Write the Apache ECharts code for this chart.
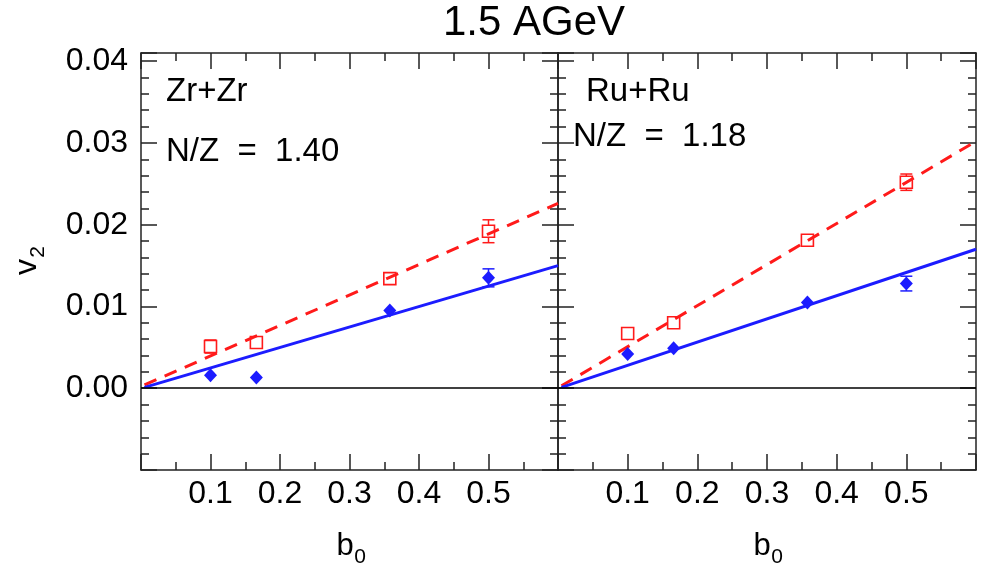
<!DOCTYPE html>
<html>
<head>
<meta charset="utf-8">
<script src="https://cdn.jsdelivr.net/npm/echarts@6/dist/echarts.min.js"></script>
<style>html,body{margin:0;padding:0;background:#fff;}#c{width:982px;height:569px;}</style>
</head>
<body>
<div id="c"></div>
<script>
// ---- data ----
const bValues = [0.1, 0.166, 0.358, 0.5];
const zrBlue = [0.0016, 0.0013, 0.0095, 0.0135];
const zrBlueErr = [0, 0, 0, 0.0011];
const zrRed = [0.0051, 0.0056, 0.0134, 0.0192];
const zrRedErr = [0.0008, 0, 0, 0.0014];
const ruBlue = [0.0042, 0.0049, 0.0105, 0.0128];
const ruBlueErr = [0, 0, 0, 0.0009];
const ruRed = [0.0067, 0.0080, 0.0181, 0.0252];
const ruRedErr = [0, 0, 0, 0.0010];
const fitB = [0.005, 0.6];
const zrBlueFit = [0.0001, 0.0150];
const zrRedFit = [0.0004, 0.0226];
const ruBlueFit = [0.0001, 0.0170];
const ruRedFit = [0.0003, 0.0302];
const xTickLabels = ['0.1', '0.2', '0.3', '0.4', '0.5'];
const yTickLabels = ['0.00', '0.01', '0.02', '0.03', '0.04'];
const titleText = '1.5 AGeV';
const panelLabels = [['Zr+Zr', 'N/Z  =  1.40'], ['Ru+Ru', 'N/Z  =  1.18']];

const RED = '#ff1a1a', BLUE = '#1c1cff', AX = '#222';
const FONT = '"Liberation Sans", Arial, Helvetica, sans-serif';

function pts(xs, ys, es) { return xs.map((x, i) => es ? [x, ys[i], es[i]] : [x, ys[i]]); }

const chart = echarts.init(document.getElementById('c'), null, {renderer: 'canvas'});

const grids = [
  {left: 141, top: 53, width: 417, height: 417},
  {left: 558, top: 53, width: 418, height: 417}
];

function xAx(gi, pos, labels) {
  return {
    type: 'value', gridIndex: gi, position: pos, min: 0, max: 0.6, interval: 0.1,
    axisLine: {show: true, onZero: false, lineStyle: {color: AX, width: 1.5}},
    axisTick: {show: true, inside: true, length: 16, lineStyle: {color: AX, width: 1.5}},
    minorTick: {show: true, splitNumber: 2, length: 8, lineStyle: {color: AX, width: 1.5}},
    splitLine: {show: false}, minorSplitLine: {show: false},
    axisLabel: {show: labels, margin: 8, fontSize: 32, color: '#000', fontFamily: FONT,
      formatter: v => { const s = v.toFixed(1); return xTickLabels.indexOf(s) >= 0 ? s : ''; }}
  };
}
function yAx(gi, pos, interval, len, labels, line) {
  return {
    type: 'value', gridIndex: gi, position: pos, min: -0.01, max: 0.041, interval: interval,
    axisLine: {show: line, onZero: false, lineStyle: {color: AX, width: 1.5}},
    axisTick: {show: true, inside: true, length: len, lineStyle: {color: AX, width: 1.5}},
    splitLine: {show: false},
    axisLabel: {show: labels, margin: 13, fontSize: 32, color: '#000', fontFamily: FONT,
      formatter: v => { const s = v.toFixed(2); return (yTickLabels.indexOf(s) >= 0 && Math.abs(v - Number(s)) < 1e-6) ? s : ''; }}
  };
}

const xAxis = [xAx(0, 'bottom', true), xAx(0, 'top', false), xAx(1, 'bottom', true), xAx(1, 'top', false)];
const yAxis = [
  yAx(0, 'left', 0.01, 16, true, true), yAx(0, 'left', 0.002, 8, false, false),
  yAx(0, 'right', 0.01, 16, false, true), yAx(0, 'right', 0.002, 8, false, false),
  yAx(1, 'left', 0.01, 16, false, true), yAx(1, 'left', 0.002, 8, false, false),
  yAx(1, 'right', 0.01, 16, false, true), yAx(1, 'right', 0.002, 8, false, false)
];

function errRender(params, api) {
  const x = api.value(0), y = api.value(1), e = api.value(2);
  if (!e) return null;
  const c = api.coord([x, y]);
  const t = api.coord([x, y + e]);
  const b = api.coord([x, y - e]);
  const hw = 6, gap = 6;
  const st = {stroke: api.visual('color'), lineWidth: 1.5, fill: null};
  return {type: 'group', children: [
    {type: 'line', shape: {x1: t[0], y1: t[1], x2: c[0], y2: Math.max(t[1], c[1] - gap)}, style: st},
    {type: 'line', shape: {x1: b[0], y1: b[1], x2: c[0], y2: Math.min(b[1], c[1] + gap)}, style: st},
    {type: 'line', shape: {x1: t[0] - hw, y1: t[1], x2: t[0] + hw, y2: t[1]}, style: st},
    {type: 'line', shape: {x1: b[0] - hw, y1: b[1], x2: b[0] + hw, y2: b[1]}, style: st}
  ]};
}

function panelSeries(gi, blue, blueErr, red, redErr, blueFit, redFit) {
  const xi = gi * 2, yi = gi * 4;
  return [
    {type: 'line', xAxisIndex: xi, yAxisIndex: yi, data: [], silent: true,
     markLine: {silent: true, symbol: ['none', 'none'], label: {show: false},
       lineStyle: {color: '#000', width: 1.5, type: 'solid'}, data: [{yAxis: 0}]}},
    {type: 'line', xAxisIndex: xi, yAxisIndex: yi, data: pts(fitB, redFit), showSymbol: false, symbol: 'none',
     lineStyle: {color: RED, width: 3, type: [13, 9]}, silent: true, z: 2},
    {type: 'line', xAxisIndex: xi, yAxisIndex: yi, data: pts(fitB, blueFit), showSymbol: false, symbol: 'none',
     lineStyle: {color: BLUE, width: 3, type: 'solid'}, silent: true, z: 2},
    {type: 'custom', xAxisIndex: xi, yAxisIndex: yi, data: pts(bValues, red, redErr), renderItem: errRender,
     itemStyle: {color: RED}, encode: {x: 0, y: 1}, z: 3, silent: true},
    {type: 'custom', xAxisIndex: xi, yAxisIndex: yi, data: pts(bValues, blue, blueErr), renderItem: errRender,
     itemStyle: {color: BLUE}, encode: {x: 0, y: 1}, z: 3, silent: true},
    {type: 'scatter', xAxisIndex: xi, yAxisIndex: yi, data: pts(bValues, red), symbol: 'rect', symbolSize: 12,
     itemStyle: {color: 'rgba(0,0,0,0)', borderColor: RED, borderWidth: 1.6, opacity: 1}, z: 4, silent: true},
    {type: 'scatter', xAxisIndex: xi, yAxisIndex: yi, data: pts(bValues, blue), symbol: 'diamond', symbolSize: [13, 14],
     itemStyle: {color: BLUE, opacity: 1}, z: 4, silent: true}
  ];
}

const series = [].concat(
  panelSeries(0, zrBlue, zrBlueErr, zrRed, zrRedErr, zrBlueFit, zrRedFit),
  panelSeries(1, ruBlue, ruBlueErr, ruRed, ruRedErr, ruBlueFit, ruRedFit)
);

function txt(x, y, text, size, align, rot) {
  return {type: 'text', x: x, y: y, rotation: rot || 0, z: 10, silent: true,
    style: {text: text, fontSize: size, fontFamily: FONT, fill: '#000',
      align: align || 'left', verticalAlign: 'middle', textAlign: align || 'left', textVerticalAlign: 'middle'}};
}

const graphic = [
  txt(534, 23, titleText, 42, 'center'),
  txt(166, 92, panelLabels[0][0], 33, 'left'),
  txt(166, 152, panelLabels[0][1], 33, 'left'),
  txt(586, 92, panelLabels[1][0], 33, 'left'),
  txt(573, 137, panelLabels[1][1], 33, 'left'),
  txt(345, 546, 'b', 31, 'center'),
  txt(360, 557, '0', 21, 'center'),
  txt(762, 546, 'b', 31, 'center'),
  txt(777, 557, '0', 21, 'center'),
  txt(27, 267, 'v', 32, 'center', Math.PI / 2),
  txt(38, 252, '2', 21, 'center', Math.PI / 2)
];

chart.setOption({
  animation: false,
  backgroundColor: '#fff',
  grid: grids,
  xAxis: xAxis,
  yAxis: yAxis,
  series: series,
  graphic: graphic
});
</script>
</body>
</html>
